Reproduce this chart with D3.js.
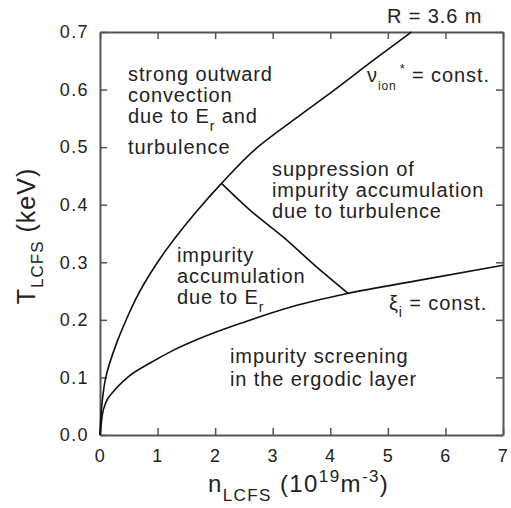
<!DOCTYPE html>
<html>
<head>
<meta charset="utf-8">
<script src="https://cdn.jsdelivr.net/npm/d3@7"></script>
<style>
  html, body { margin: 0; padding: 0; background: #fff; }
  svg { display: block; }
</style>
</head>
<body>
<svg id="chart" width="511" height="508"></svg>
<script>
// Density and temperature at the last closed flux surface (LCFS)
const xTicks = [0, 1, 2, 3, 4, 5, 6, 7];
const yTicks = [0.0, 0.1, 0.2, 0.3, 0.4, 0.5, 0.6, 0.7];

// nu_ion* = const. boundary
const nuDensity = [0, 0.03, 0.1, 0.29, 0.49, 0.61, 1.0, 1.65, 2.11, 2.74, 3.4, 4.08, 4.75, 5.41];
const nuTemp    = [0, 0.05, 0.1, 0.16, 0.208, 0.234, 0.3, 0.385, 0.437, 0.5, 0.55, 0.6, 0.651, 0.7];

// xi_i = const. boundary
const xiDensity = [0, 0.04, 0.1, 0.23, 0.49, 0.87, 1.27, 1.74, 2.5, 3.3, 4.31, 5.56, 7.0];
const xiTemp    = [0, 0.035, 0.056, 0.075, 0.101, 0.125, 0.147, 0.168, 0.196, 0.222, 0.246, 0.269, 0.295];

// boundary between E_r-driven accumulation and turbulent suppression
const midDensity = [2.11, 2.6, 3.18, 3.76, 4.31];
const midTemp    = [0.437, 0.391, 0.344, 0.292, 0.246];

const FONT = "'Liberation Sans', Arial, Helvetica, sans-serif";
const INK = "#222";

const svg = d3.select("#chart").style("font-family", FONT);
const x = d3.scaleLinear().domain([0, 7]).range([100, 503]);
const y = d3.scaleLinear().domain([0, 0.7]).range([435, 32]);

function styleAxis(g) {
  g.select(".domain").attr("stroke", "#555").attr("stroke-width", 2);
  g.selectAll(".tick line").attr("stroke", "#555").attr("stroke-width", 1.5);
  g.selectAll(".tick text")
    .attr("fill", INK)
    .style("font-family", FONT)
    .style("font-size", "18px")
    .style("letter-spacing", "1.4px");
}

const tick = 7;
svg.append("g").attr("transform", `translate(0,${y(0)})`)
  .call(d3.axisBottom(x).tickValues(xTicks).tickSize(-tick).tickSizeOuter(0).tickPadding(14).tickFormat(d3.format("d")))
  .call(styleAxis);
svg.append("g").attr("transform", `translate(0,${y(0.7)})`)
  .call(d3.axisTop(x).tickValues(xTicks).tickSize(-tick).tickSizeOuter(0).tickFormat(""))
  .call(styleAxis);
svg.append("g").attr("transform", `translate(${x(0)},0)`)
  .call(d3.axisLeft(y).tickValues(yTicks).tickSize(-tick).tickSizeOuter(0).tickPadding(11).tickFormat(d3.format(".1f")))
  .call(styleAxis);
svg.append("g").attr("transform", `translate(${x(7)},0)`)
  .call(d3.axisRight(y).tickValues(yTicks).tickSize(-tick).tickSizeOuter(0).tickFormat(""))
  .call(styleAxis);

const lineY = d3.line().x(d => x(d[0])).y(d => y(d[1])).curve(d3.curveMonotoneY);
const lineX = d3.line().x(d => x(d[0])).y(d => y(d[1])).curve(d3.curveMonotoneX);

const curveStyle = p => p.attr("fill", "none").attr("stroke", "#111").attr("stroke-width", 1.6);
svg.append("path").attr("d", lineY(d3.zip(nuDensity, nuTemp))).call(curveStyle);
svg.append("path").attr("d", lineX(d3.zip(xiDensity, xiTemp))).call(curveStyle);
svg.append("path").attr("d", lineX(d3.zip(midDensity, midTemp).reverse())).call(curveStyle);

// text made of runs with sub/superscripts
function rich(px, py, runs, size, spacing) {
  const t = svg.append("text").attr("x", px).attr("y", py)
    .attr("fill", INK)
    .style("font-family", FONT)
    .style("font-size", size + "px")
    .style("letter-spacing", spacing + "px");
  runs.forEach(r => {
    const s = t.append("tspan").text(r.t);
    if (r.size) s.style("font-size", r.size + "px");
    if (r.dy) s.attr("dy", r.dy);
    if (r.dx) s.attr("dx", r.dx);
  });
  return t;
}

// region labels
const RS = 20, RL = 0.9;
const lines = (px, py, arr, step) => arr.forEach((s, i) => rich(px, py + i * step, [{t: s}], RS, RL));

lines(128, 81, ["strong outward", "convection"], 21);
rich(128, 123, [{t: "due to E"}, {t: "r", size: 14, dy: 8}, {t: " and", dy: -8}], RS, RL);
lines(128, 154, ["turbulence"], 21);

lines(272, 176, ["suppression of", "impurity accumulation", "due to turbulence"], 21);

lines(177, 262, ["impurity", "accumulation"], 21);
rich(177, 304, [{t: "due to E"}, {t: "r", size: 14, dy: 8}], RS, RL);

lines(230, 363, ["impurity screening", "in the ergodic layer"], 23);

rich(387, 23, [{t: "R = 3.6 m"}], RS, RL);
rich(367, 82, [{t: "ν"}, {t: "ion", size: 12, dy: 8}, {t: "*", size: 13, dy: -17, dx: 3}, {t: " = const.", dy: 9}], RS, RL);
rich(389, 310, [{t: "ξ"}, {t: "i", size: 14, dy: 7}, {t: " = const.", dy: -7}], RS, RL);

// axis titles
rich(0, 0, [{t: "T"}, {t: "LCFS", size: 17, dy: 8}, {t: " (keV)", dy: -8}], 25, 1)
  .attr("text-anchor", "middle")
  .attr("transform", "translate(35,236) rotate(-90)");
rich(208, 492, [{t: "n"}, {t: "LCFS", size: 17, dy: 9}, {t: " (10", dy: -9}, {t: "19", size: 17, dy: -10}, {t: "m", dy: 10}, {t: "-3", size: 17, dy: -10}, {t: ")", dy: 10}], 24, 1.4);
</script>
</body>
</html>
